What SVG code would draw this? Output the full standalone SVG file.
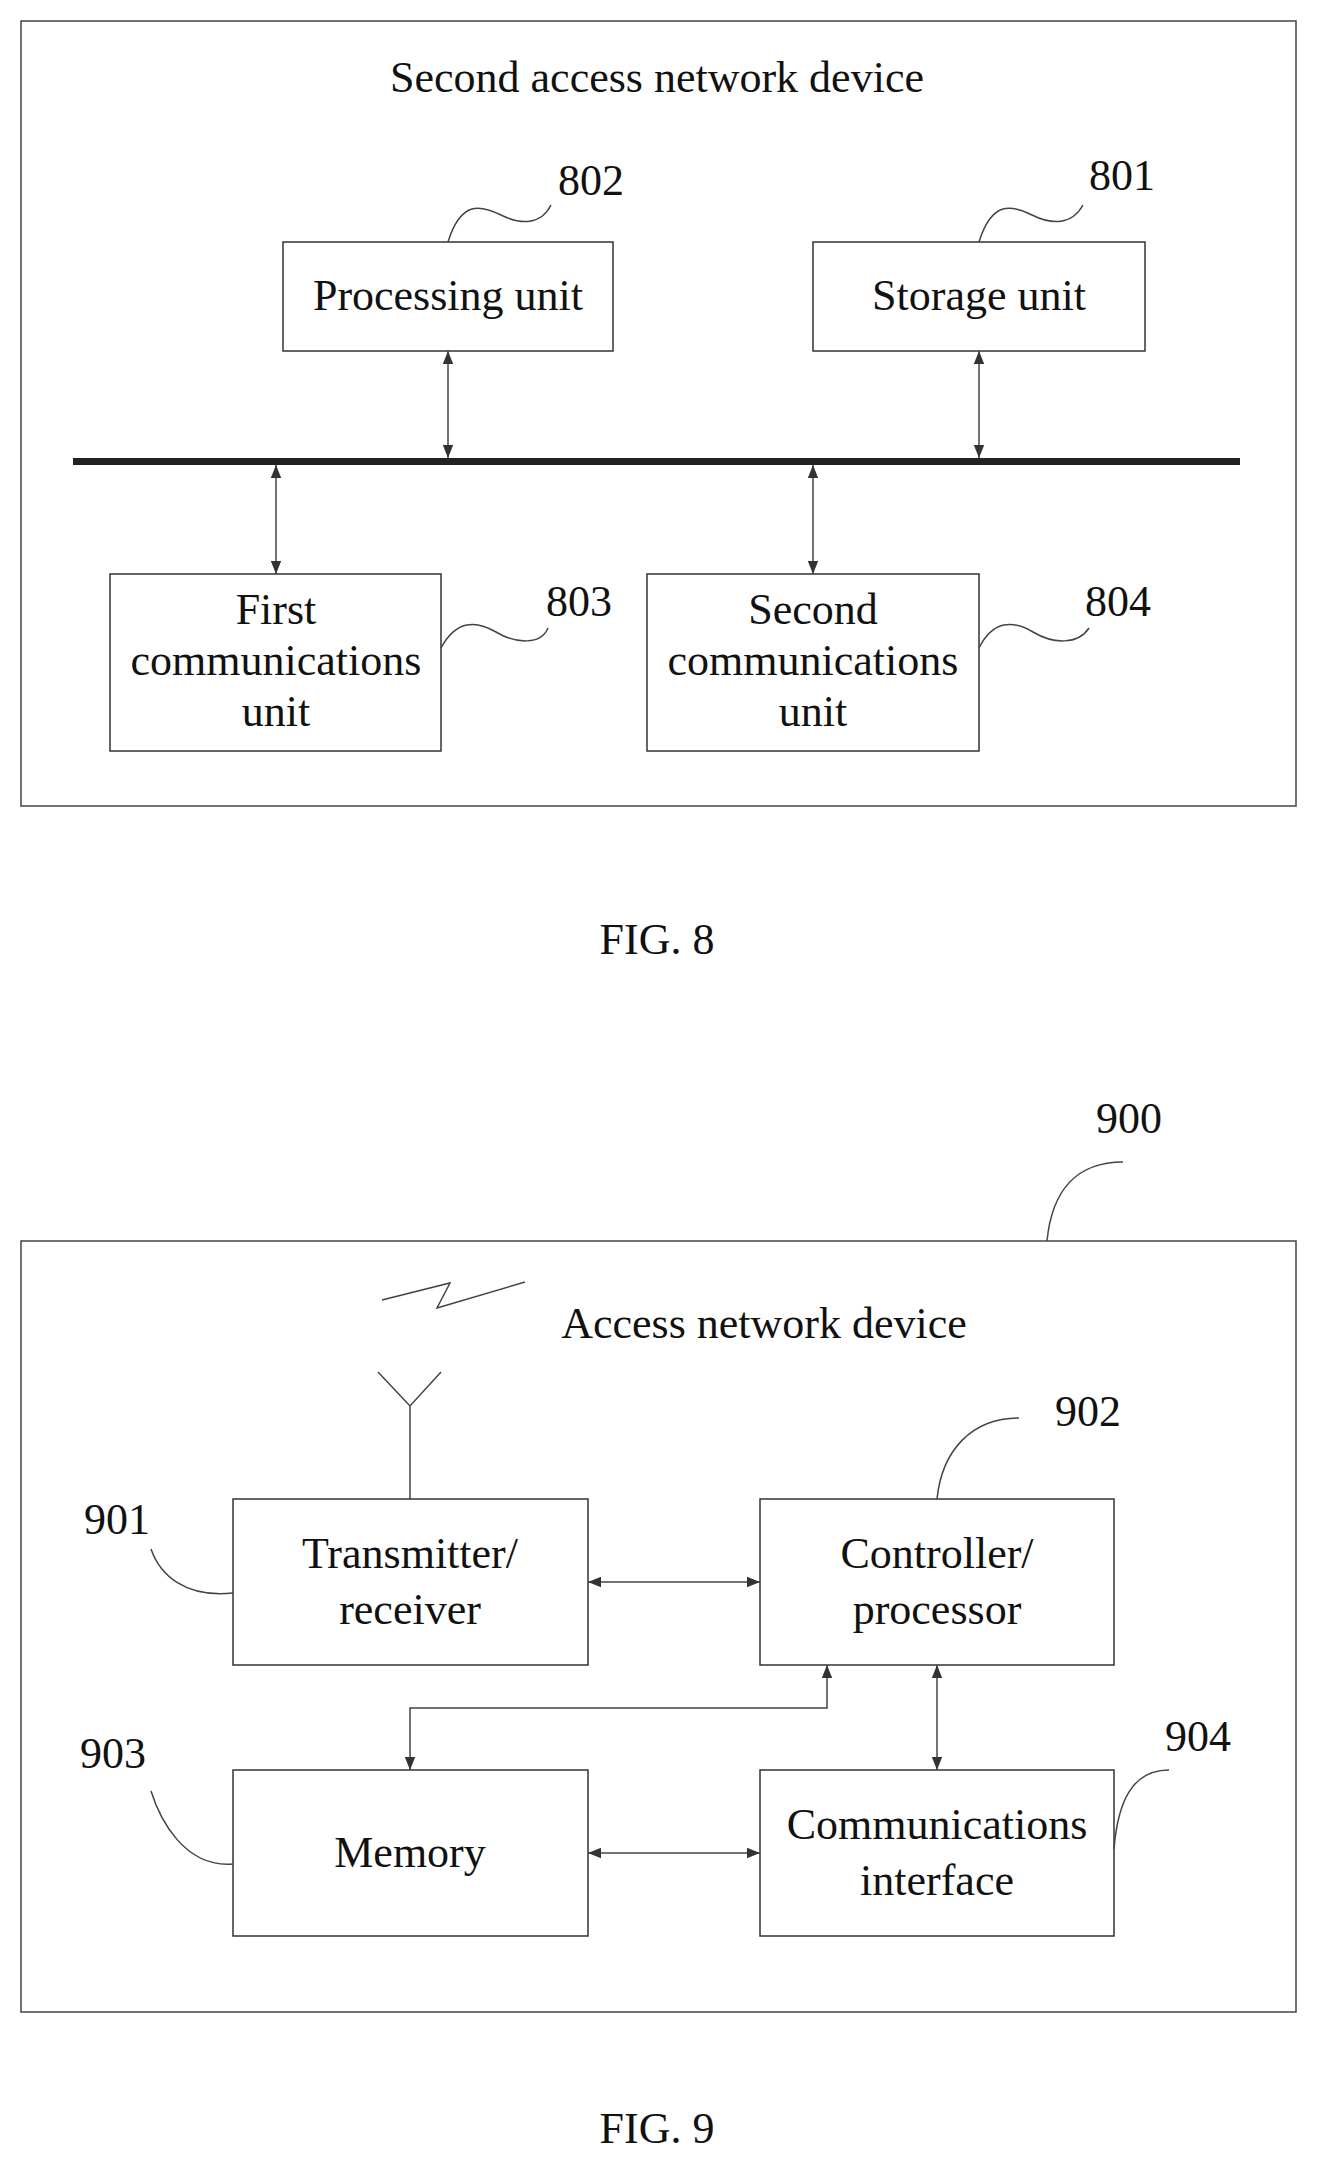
<svg xmlns="http://www.w3.org/2000/svg" width="1320" height="2168" viewBox="0 0 1320 2168">
<style>
text{font-family:"Liberation Serif","Times New Roman",serif;font-size:44px;fill:#111;text-anchor:middle}
.box{fill:#fff;stroke:#333;stroke-width:1.5}
.frame{fill:none;stroke:#444;stroke-width:1.5}
.ln{fill:none;stroke:#444;stroke-width:1.5}
.ar{fill:none;stroke:#444;stroke-width:1.5;marker-start:url(#a);marker-end:url(#a)}
</style>
<defs>
<marker id="a" viewBox="0 0 10 10" refX="10" refY="5" markerWidth="15" markerHeight="13" orient="auto-start-reverse" markerUnits="userSpaceOnUse"><path d="M0,1L10,5L0,9z" fill="#333"/></marker>
</defs>
<rect class="frame" x="21" y="21" width="1275" height="785"/>
<text x="657" y="92">Second access network device</text>
<rect x="73" y="458" width="1167" height="7" fill="#222"/>
<g id="n802"><rect class="box" x="283" y="242" width="330" height="109"/><text x="448" y="310">Processing unit</text><text x="591" y="195">802</text></g>
<g id="n801"><rect class="box" x="813" y="242" width="332" height="109"/><text x="979" y="310">Storage unit</text><text x="1122" y="190">801</text></g>
<g id="n803"><rect class="box" x="110" y="574" width="331" height="177"/><text x="276" y="624">First</text><text x="276" y="675">communications</text><text x="276" y="726">unit</text><text x="579" y="616">803</text></g>
<g id="n804"><rect class="box" x="647" y="574" width="332" height="177"/><text x="813" y="624">Second</text><text x="813" y="675">communications</text><text x="813" y="726">unit</text><text x="1118" y="616">804</text></g>
<text x="657" y="954" font-size="54">FIG. 8</text>
<rect class="frame" x="21" y="1241" width="1275" height="771"/>
<text x="764" y="1338">Access network device</text>
<path class="ln" d="M382,1300L450,1283L437,1308L525,1282"/>
<path class="ln" d="M378,1372L410,1406L441,1372M410,1406V1499"/>
<g id="n901"><rect class="box" x="233" y="1499" width="355" height="166"/><text x="410" y="1568">Transmitter/</text><text x="410" y="1624">receiver</text><text x="117" y="1534">901</text></g>
<g id="n902"><rect class="box" x="760" y="1499" width="354" height="166"/><text x="937" y="1568">Controller/</text><text x="937" y="1624">processor</text><text x="1088" y="1426">902</text></g>
<g id="n903"><rect class="box" x="233" y="1770" width="355" height="166"/><text x="410" y="1867">Memory</text><text x="113" y="1768">903</text></g>
<g id="n904"><rect class="box" x="760" y="1770" width="354" height="166"/><text x="937" y="1839">Communications</text><text x="937" y="1895">interface</text><text x="1198" y="1751">904</text></g>
<text x="1129" y="1133">900</text>
<text x="657" y="2143" font-size="54">FIG. 9</text>
<g id="connectors">
<path class="ar" d="M448,351V458"/>
<path class="ar" d="M979,351V458"/>
<path class="ar" d="M276,465V574"/>
<path class="ar" d="M813,465V574"/>
<path class="ar" d="M588,1582H760"/>
<path class="ar" d="M588,1853H760"/>
<path class="ar" d="M937,1665V1770"/>
<path class="ar" d="M410,1770V1708H827V1665"/>
<path class="ln" d="M448,242C461,200 481,205 501,215S541,225 551,205"/>
<path class="ln" d="M979,242C992,200 1012,205 1032,215S1072,225 1083,205"/>
<path class="ln" d="M441,648C456,620 476,620 496,632S541,645 548,628"/>
<path class="ln" d="M979,648C993,620 1013,620 1033,632S1078,645 1089,628"/>
<path class="ln" d="M1047,1241C1052,1190 1077,1162 1123,1162"/>
<path class="ln" d="M937,1499C942,1450 972,1418 1019,1418"/>
<path class="ln" d="M151,1549C160,1575 185,1598 233,1593"/>
<path class="ln" d="M151,1791C160,1820 185,1868 233,1864"/>
<path class="ln" d="M1114,1849C1118,1800 1133,1770 1169,1770"/>
</g>
</svg>
